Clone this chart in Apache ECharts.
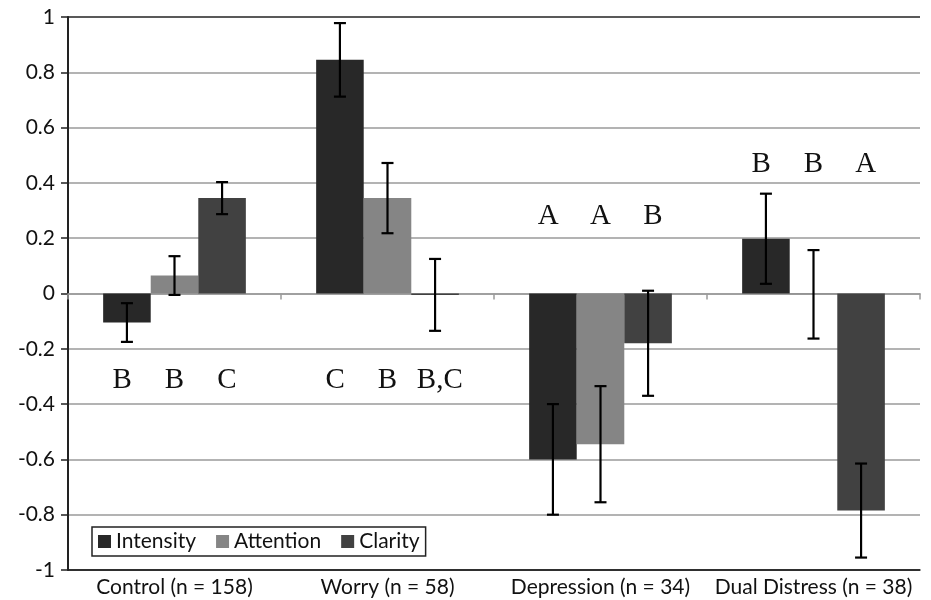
<!DOCTYPE html>
<html><head><meta charset="utf-8">
<script src="https://cdn.jsdelivr.net/npm/echarts@6/dist/echarts.min.js"></script>
<style>html,body{margin:0;padding:0;background:#fff}#c{width:931px;height:600px}</style>
</head><body><div id="c"></div>
<script>
var categories = ['Control (n = 158)', 'Worry (n = 58)', 'Depression (n = 34)', 'Dual Distress (n = 38)'];
var seriesNames = ['Intensity', 'Attention', 'Clarity'];
var intensity = [-0.105, 0.845, -0.60, 0.198];
var attention = [0.065, 0.345, -0.545, -0.003];
var clarity = [0.345, -0.005, -0.18, -0.785];
var intensityErr = [0.07, 0.133, 0.20, 0.163];
var attentionErr = [0.07, 0.127, 0.21, 0.16];
var clarityErr = [0.058, 0.13, 0.19, 0.17];
var intensityLetters = ['B', 'C', 'A', 'B'];
var attentionLetters = ['B', 'B', 'A', 'B'];
var clarityLetters = ['C', 'B,C', 'B', 'A'];
var letterLevels = [-0.315, -0.315, 0.278, 0.467];
var yTicks = [-1, -0.8, -0.6, -0.4, -0.2, 0, 0.2, 0.4, 0.6, 0.8, 1];

var colors = ['#282828', '#858585', '#414141'];
var values = [intensity, attention, clarity];
var errs = [intensityErr, attentionErr, clarityErr];
var letters = [intensityLetters, attentionLetters, clarityLetters];
var GAP = 0.33;

function barOffset(api, i, k) {
  var cw = api.size([1, 0])[0];
  var bw = cw * (1 - GAP) / 3;
  return (i - 1) * bw * (k || 1);
}

var series = [];
seriesNames.forEach(function (name, i) {
  series.push({
    name: name, type: 'bar', data: values[i], barGap: '0%', barCategoryGap: (GAP * 100) + '%',
    itemStyle: { color: colors[i] }, z: 2
  });
});
seriesNames.forEach(function (name, i) {
  series.push({
    type: 'custom', name: name + '_err', z: 5,
    data: values[i].map(function (v, k) { return [k, v - errs[i][k], v + errs[i][k]]; }),
    renderItem: function (params, api) {
      var x = api.coord([api.value(0), 0])[0] + barOffset(api, i);
      var lo = api.coord([api.value(0), api.value(1)])[1];
      var hi = api.coord([api.value(0), api.value(2)])[1];
      var st = { stroke: '#000', lineWidth: 2.2 };
      return { type: 'group', children: [
        { type: 'line', shape: { x1: x, y1: lo, x2: x, y2: hi }, style: st },
        { type: 'line', shape: { x1: x - 6, y1: lo, x2: x + 6, y2: lo }, style: st },
        { type: 'line', shape: { x1: x - 6, y1: hi, x2: x + 6, y2: hi }, style: st }
      ]};
    },
    encode: { x: 0, y: [1, 2] }, silent: true
  });
});
seriesNames.forEach(function (name, i) {
  series.push({
    type: 'custom', name: name + '_letter', z: 6,
    data: letters[i].map(function (t, k) { return [k, letterLevels[k]]; }),
    renderItem: function (params, api) {
      var p = api.coord([api.value(0), api.value(1)]);
      var x = p[0] + barOffset(api, i, 1.1);
      return { type: 'text', x: x, y: p[1], style: {
        text: letters[i][params.dataIndex], fill: '#111', font: '29px "Liberation Serif"',
        align: 'center', verticalAlign: 'middle' } };
    },
    encode: { x: 0, y: 1 }, silent: true
  });
});

var splitColors = yTicks.map(function (v, k) { return (k === 0 || k === yTicks.length - 1) ? '#222' : '#9a9a9a'; });

var option = {
  animation: false,
  backgroundColor: '#fff',
  grid: { left: 68, right: 11, top: 17, bottom: 30 },
  legend: {
    data: seriesNames, left: 92, top: 527, orient: 'horizontal',
    borderColor: '#222', borderWidth: 1.5, padding: [4, 6, 4, 6],
    itemWidth: 13, itemHeight: 13, itemGap: 20, icon: 'rect',
    textStyle: { fontFamily: 'Lato', fontSize: 21, color: '#111' }
  },
  xAxis: [{
    type: 'category', data: categories, position: 'bottom',
    axisLine: { onZero: false, lineStyle: { color: '#222', width: 1.5 } },
    axisTick: { show: false },
    axisLabel: { fontFamily: 'Lato', fontSize: 21, color: '#111', margin: 7, interval: 0 },
    splitLine: { show: false }
  }, {
    type: 'category', data: categories, position: 'top',
    axisLine: { onZero: true, lineStyle: { color: '#9a9a9a', width: 1.5 } },
    axisTick: { show: true, inside: true, length: 6, lineStyle: { color: '#9a9a9a', width: 1.5 } },
    axisLabel: { show: false }, splitLine: { show: false }
  }],
  yAxis: {
    type: 'value', min: -1, max: 1, interval: 0.2,
    axisLine: { show: true, onZero: false, lineStyle: { color: '#222', width: 2 } },
    axisTick: { show: true, length: 7, lineStyle: { color: '#222', width: 1.5 } },
    axisLabel: { fontFamily: 'Lato', fontSize: 21, color: '#111', margin: 13,
      formatter: function (v) { return String(Math.round(v * 10) / 10); } },
    splitLine: { show: true, lineStyle: { color: splitColors, width: 1.5 } }
  },
  series: series
};
var chart = echarts.init(document.getElementById('c'), null, { renderer: 'canvas' });
chart.setOption(option);
</script></body></html>
